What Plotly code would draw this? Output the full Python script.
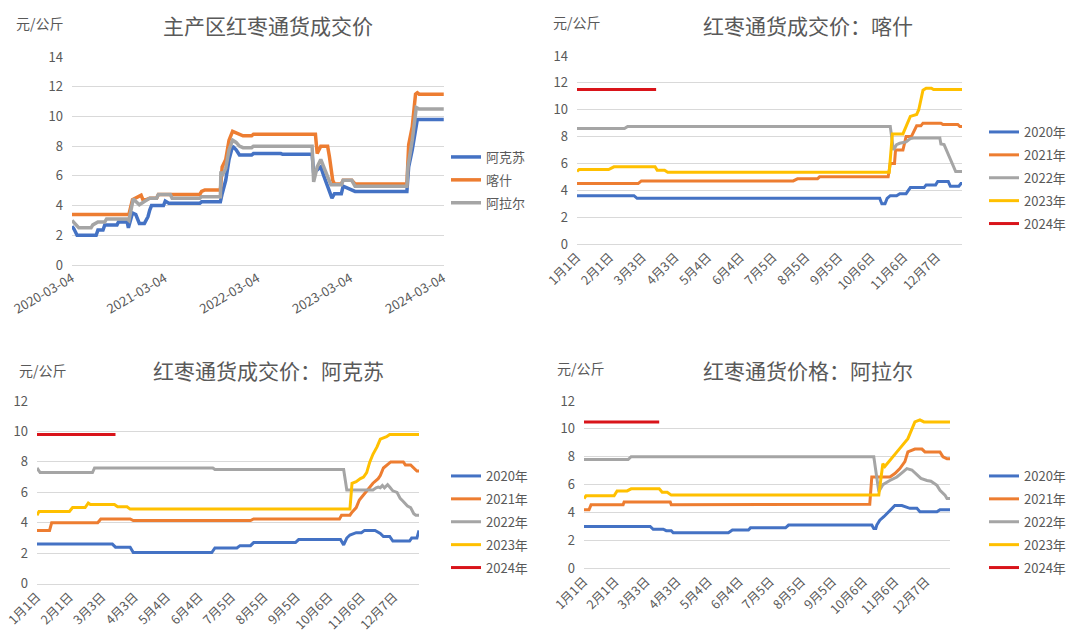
import plotly.graph_objects as go

W, H = 1080, 638
FONT = "Noto Sans CJK SC"
TXT = "#595959"
GRID = "#D9D9D9"
BLUE, ORANGE, GRAY, YELLOW, RED = "#4472C4", "#ED7D31", "#A5A5A5", "#FFC000", "#D9141A"

# ---------------- Panel 1: 主产区红枣通货成交价 (date axis) ----------------
p1_ticks = ["2020-03-04", "2021-03-04", "2022-03-04", "2023-03-04", "2024-03-04"]

akesu_dates = ["2020-03-04", "2020-03-11", "2020-03-24", "2020-06-07", "2020-06-14", "2020-07-04",
               "2020-07-11", "2020-08-28", "2020-09-03", "2020-10-07", "2020-10-12", "2020-10-28",
               "2020-11-10", "2020-11-24", "2020-12-14", "2020-12-28", "2021-01-04", "2021-01-11",
               "2021-02-27", "2021-03-06", "2021-03-20", "2021-07-20", "2021-07-27", "2021-10-09",
               "2021-10-16", "2021-10-30", "2021-11-12", "2021-11-26", "2021-12-10", "2021-12-23",
               "2022-02-09", "2022-02-16", "2022-06-04", "2022-06-11", "2022-10-05", "2022-10-11",
               "2022-10-25", "2022-11-08", "2022-11-21", "2022-12-05", "2022-12-22", "2023-01-01",
               "2023-01-28", "2023-02-04", "2023-02-17", "2023-03-03", "2023-03-23", "2023-10-13",
               "2023-10-20", "2023-11-03", "2023-11-16", "2023-11-23", "2024-03-06"]
akesu_vals = [2.6, 2.45, 2.0, 2.0, 2.35, 2.35,
              2.7, 2.7, 2.9, 2.9, 2.5, 3.5,
              3.4, 2.8, 2.8, 3.25, 3.7, 4.0,
              4.0, 4.3, 4.15, 4.15, 4.25, 4.25,
              4.8, 5.7, 7.1, 8.0, 7.75, 7.4,
              7.4, 7.5, 7.5, 7.45, 7.45, 6.2,
              6.4, 6.6, 5.95, 5.3, 4.5, 4.8,
              4.8, 5.3, 5.2, 5.05, 4.95, 4.95,
              6.6, 7.75, 9.3, 9.8, 9.8]

kashi_dates = ["2020-03-04", "2020-10-14", "2020-10-28", "2020-11-24", "2020-12-01", "2020-12-08",
               "2020-12-21", "2021-01-04", "2021-01-31", "2021-02-07", "2021-07-20", "2021-07-27",
               "2021-08-09", "2021-10-09", "2021-10-16", "2021-10-30", "2021-11-12", "2021-11-26",
               "2021-12-10", "2021-12-23", "2022-01-06", "2022-02-09", "2022-02-16", "2022-10-18",
               "2022-10-25", "2022-11-08", "2022-12-05", "2022-12-12", "2022-12-25", "2023-01-01",
               "2023-01-28", "2023-02-04", "2023-03-10", "2023-03-23", "2023-10-13", "2023-10-20",
               "2023-11-03", "2023-11-16", "2023-11-23", "2023-11-30", "2024-03-06"]
kashi_vals = [3.4, 3.4, 4.4, 4.6, 4.7, 4.4,
              4.4, 4.5, 4.5, 4.75, 4.75, 4.95,
              5.05, 5.05, 6.6, 7.1, 8.4, 9.0,
              8.9, 8.75, 8.7, 8.7, 8.8, 8.8,
              7.5, 8.0, 8.0, 7.3, 5.7, 5.45,
              5.45, 5.7, 5.7, 5.45, 5.45, 8.1,
              9.3, 11.5, 11.6, 11.5, 11.5]

alaer_dates = ["2020-03-04", "2020-03-18", "2020-03-31", "2020-05-18", "2020-05-25", "2020-06-14",
               "2020-07-11", "2020-07-18", "2020-10-07", "2020-10-14", "2020-10-31", "2020-11-24",
               "2020-12-14", "2021-01-04", "2021-01-31", "2021-02-07", "2021-03-26", "2021-04-02",
               "2021-07-20", "2021-07-27", "2021-10-09", "2021-10-11", "2021-10-16", "2021-10-30",
               "2021-11-12", "2021-11-26", "2021-12-10", "2021-12-23", "2022-01-06", "2022-02-09",
               "2022-02-16", "2022-10-05", "2022-10-11", "2022-10-25", "2022-11-08", "2022-11-21",
               "2022-12-05", "2022-12-18", "2023-01-28", "2023-02-04", "2023-03-10", "2023-03-23",
               "2023-10-13", "2023-10-17", "2023-11-03", "2023-11-19", "2023-11-30", "2024-03-06"]
alaer_vals = [3.0, 2.7, 2.5, 2.5, 2.7, 2.9,
              2.9, 3.1, 3.1, 3.0, 4.45, 4.05,
              4.3, 4.5, 4.5, 4.75, 4.75, 4.5,
              4.5, 4.6, 4.6, 6.3, 6.0, 6.5,
              7.75, 8.4, 8.25, 8.0, 7.9, 7.9,
              8.0, 8.0, 5.6, 6.6, 7.1, 6.6,
              5.95, 5.4, 5.4, 5.7, 5.7, 5.3,
              5.3, 6.6, 8.4, 10.6, 10.5, 10.5]

# ---------------- Seasonal panels (day index within a leap year) ----------------
season_tick_days = [0, 31, 62, 93, 124, 155, 186, 217, 248, 279, 310, 341]
season_tick_labels = ["1月1日", "2月1日", "3月3日", "4月3日", "5月4日", "6月4日",
                      "7月5日", "8月5日", "9月5日", "10月6日", "11月6日", "12月7日"]
year_names = ["2020年", "2021年", "2022年", "2023年", "2024年"]

# 喀什
ks_2020_day = [0, 54, 57, 287, 289, 292, 294, 297, 303, 306, 312, 314, 316, 329, 331, 340, 342, 352, 354, 362, 364, 365]
ks_2020_val = [3.6, 3.6, 3.4, 3.4, 3.0, 3.0, 3.4, 3.6, 3.6, 3.75, 3.75, 4.0, 4.2, 4.2, 4.4, 4.4, 4.65, 4.65, 4.3, 4.3, 4.5, 4.5]
ks_2021_day = [0, 58, 61, 205, 209, 228, 230, 295, 297, 301, 302, 309, 312, 317, 322, 326, 328, 345, 347, 361, 363, 365]
ks_2021_val = [4.5, 4.5, 4.7, 4.7, 4.85, 4.85, 5.0, 5.0, 6.0, 6.0, 7.0, 7.0, 8.0, 8.0, 8.8, 8.8, 9.0, 9.0, 8.9, 8.9, 8.75, 8.75]
ks_2022_day = [0, 45, 48, 297, 300, 303, 306, 312, 316, 319, 344, 345, 348, 352, 356, 359, 365]
ks_2022_val = [8.6, 8.6, 8.75, 8.75, 7.0, 7.4, 7.5, 7.6, 7.85, 7.9, 7.9, 7.45, 7.4, 6.7, 5.9, 5.4, 5.4]
ks_2023_day = [0, 2, 30, 35, 74, 76, 83, 86, 296, 299, 309, 312, 316, 322, 324, 328, 331, 336, 338, 365]
ks_2023_val = [5.4, 5.55, 5.55, 5.75, 5.75, 5.5, 5.5, 5.35, 5.35, 8.2, 8.2, 8.75, 9.5, 9.65, 10.0, 11.45, 11.6, 11.6, 11.5, 11.5]
ks_2024_day = [0, 75]
ks_2024_val = [11.5, 11.5]

# 阿克苏
aks_2020_day = [0, 72, 75, 89, 92, 167, 170, 191, 194, 204, 207, 247, 250, 290, 293, 296, 299, 305, 310, 313, 323, 328, 331, 337, 340, 356, 358, 363, 365]
aks_2020_val = [2.6, 2.6, 2.4, 2.4, 2.05, 2.05, 2.35, 2.35, 2.5, 2.5, 2.7, 2.7, 2.9, 2.9, 2.55, 3.0, 3.2, 3.35, 3.35, 3.5, 3.5, 3.3, 3.1, 3.1, 2.8, 2.8, 3.0, 3.0, 3.5]
aks_2021_day = [0, 12, 14, 58, 61, 89, 92, 204, 207, 289, 291, 299, 301, 305, 308, 313, 318, 321, 326, 328, 331, 336, 338, 350, 352, 357, 361, 363, 365]
aks_2021_val = [3.5, 3.5, 4.0, 4.0, 4.25, 4.25, 4.15, 4.15, 4.25, 4.25, 4.5, 4.5, 4.7, 5.0, 5.5, 5.9, 6.3, 6.6, 6.9, 7.1, 7.6, 7.9, 8.0, 8.0, 7.8, 7.8, 7.5, 7.4, 7.4]
aks_2022_day = [0, 1, 3, 53, 55, 168, 170, 293, 296, 321, 324, 326, 328, 330, 332, 335, 337, 340, 344, 347, 350, 354, 357, 360, 362, 365]
aks_2022_val = [7.4, 7.5, 7.3, 7.3, 7.6, 7.6, 7.5, 7.5, 6.15, 6.15, 6.3, 6.35, 6.3, 6.45, 6.3, 6.5, 6.35, 6.1, 6.0, 5.6, 5.4, 5.1, 5.0, 4.6, 4.5, 4.5]
aks_2023_day = [0, 2, 31, 34, 46, 49, 51, 74, 77, 86, 89, 299, 301, 305, 309, 312, 315, 318, 321, 325, 328, 331, 334, 337, 365]
aks_2023_val = [4.5, 4.75, 4.75, 5.0, 5.0, 5.3, 5.2, 5.2, 5.05, 5.05, 4.9, 4.9, 6.6, 6.7, 6.9, 7.0, 7.3, 8.0, 8.5, 9.0, 9.5, 9.55, 9.65, 9.8, 9.8]
aks_2024_day = [0, 75]
aks_2024_val = [9.8, 9.8]

# 阿拉尔
alr_2020_day = [0, 66, 69, 79, 82, 87, 89, 144, 148, 164, 166, 201, 204, 287, 289, 291, 292, 295, 299, 305, 310, 317, 322, 325, 332, 335, 352, 355, 365]
alr_2020_val = [3.0, 3.0, 2.8, 2.8, 2.7, 2.7, 2.55, 2.55, 2.75, 2.75, 2.9, 2.9, 3.1, 3.1, 2.85, 2.85, 3.1, 3.45, 3.7, 4.15, 4.5, 4.5, 4.4, 4.3, 4.3, 4.05, 4.05, 4.2, 4.2]
alr_2021_day = [0, 5, 7, 39, 40, 86, 87, 203, 206, 285, 287, 305, 310, 315, 320, 323, 330, 337, 340, 355, 358, 362, 365]
alr_2021_val = [4.2, 4.2, 4.55, 4.55, 4.75, 4.75, 4.55, 4.55, 4.6, 4.6, 6.55, 6.55, 6.8, 7.15, 7.65, 8.35, 8.55, 8.55, 8.35, 8.35, 8.0, 7.85, 7.85]
alr_2022_day = [0, 44, 47, 289, 294, 298, 305, 312, 317, 322, 327, 332, 336, 342, 346, 352, 355, 360, 362, 365]
alr_2022_val = [7.8, 7.8, 8.0, 8.0, 5.5, 6.0, 6.3, 6.55, 6.85, 7.15, 7.05, 6.7, 6.45, 6.3, 6.25, 5.95, 5.6, 5.25, 5.0, 5.0]
alr_2023_day = [0, 2, 30, 33, 43, 47, 75, 78, 83, 87, 294, 298, 300, 303, 309, 315, 323, 327, 330, 335, 339, 365]
alr_2023_val = [5.0, 5.2, 5.2, 5.55, 5.55, 5.7, 5.7, 5.45, 5.45, 5.25, 5.25, 7.5, 7.3, 7.55, 8.1, 8.6, 9.3, 10.0, 10.5, 10.65, 10.5, 10.5]
alr_2024_day = [0, 75]
alr_2024_val = [10.5, 10.5]


def fx(p):
    return p / W


def fy(p):
    return 1 - p / H


fig = go.Figure()

# panel 1 traces
for name, xs, ys, col in [("阿克苏", akesu_dates, akesu_vals, BLUE),
                          ("喀什", kashi_dates, kashi_vals, ORANGE),
                          ("阿拉尔", alaer_dates, alaer_vals, GRAY)]:
    fig.add_trace(go.Scatter(x=xs, y=ys, name=name, mode="lines", legendgroup="p1" + name,
                             line=dict(color=col, width=3.5), xaxis="x", yaxis="y", legend="legend"))

season_sets = [
    ("2", "legend2", [(ks_2020_day, ks_2020_val), (ks_2021_day, ks_2021_val), (ks_2022_day, ks_2022_val),
                      (ks_2023_day, ks_2023_val), (ks_2024_day, ks_2024_val)]),
    ("3", "legend3", [(aks_2020_day, aks_2020_val), (aks_2021_day, aks_2021_val), (aks_2022_day, aks_2022_val),
                      (aks_2023_day, aks_2023_val), (aks_2024_day, aks_2024_val)]),
    ("4", "legend4", [(alr_2020_day, alr_2020_val), (alr_2021_day, alr_2021_val), (alr_2022_day, alr_2022_val),
                      (alr_2023_day, alr_2023_val), (alr_2024_day, alr_2024_val)]),
]
colors = [BLUE, ORANGE, GRAY, YELLOW, RED]
for ax, leg, series in season_sets:
    for (d, v), nm, col in zip(series, year_names, colors):
        fig.add_trace(go.Scatter(x=d, y=v, name=nm, mode="lines", legendgroup=ax + nm,
                                 line=dict(color=col, width=3), xaxis="x" + ax, yaxis="y" + ax, legend=leg))

tickfont = dict(family=FONT, size=13, color=TXT)
xfont = dict(family=FONT, size=13, color=TXT)

def yaxis(dom, top, anchor):
    return dict(domain=dom, range=[0, top], dtick=2, showgrid=True, gridcolor=GRID, gridwidth=1,
                zeroline=False, showline=False, ticks="", tickfont=tickfont, anchor=anchor,
                ticklabelstandoff=8, fixedrange=True, automargin=False)

def sxaxis(dom, anchor):
    return dict(domain=dom, range=[0, 365], tickvals=season_tick_days, ticktext=season_tick_labels,
                tickangle=-45, showgrid=False, zeroline=False, showline=True, linecolor=GRID, linewidth=1,
                ticks="", tickfont=dict(family=FONT, size=12.5, color=TXT), anchor=anchor, fixedrange=True,
                automargin=False)

legend_base = dict(font=dict(family=FONT, size=13, color=TXT), bgcolor="rgba(0,0,0,0)",
                   xanchor="left", yanchor="middle", tracegroupgap=3, itemclick=False, itemdoubleclick=False)

layout = dict(
    template="none",
    width=W, height=H, autosize=False, margin=dict(l=0, r=0, t=0, b=0, pad=0, autoexpand=False),
    paper_bgcolor="white", plot_bgcolor="white", font=dict(family=FONT, color=TXT),
    xaxis=dict(domain=[fx(72), fx(444)], type="date", range=["2020-03-04", "2024-03-07"],
               tickvals=p1_ticks, ticktext=p1_ticks, tickangle=-30, showgrid=False, zeroline=False,
               showline=True, linecolor=GRID, ticks="", tickfont=xfont, anchor="y", fixedrange=True,
               automargin=False),
    yaxis=yaxis([fy(265), fy(57)], 14, "x"),
    xaxis2=sxaxis([fx(577), fx(962)], "y2"),
    yaxis2=yaxis([fy(244), fy(56)], 14, "x2"),
    xaxis3=sxaxis([fx(37), fx(419)], "y3"),
    yaxis3=yaxis([fy(583.7), fy(401)], 12, "x3"),
    xaxis4=sxaxis([fx(584), fx(950)], "y4"),
    yaxis4=yaxis([fy(568.3), fy(401)], 12, "x4"),
    legend=dict(legend_base, x=fx(446), y=fy(180)),
    legend2=dict(legend_base, x=fx(984), y=fy(178)),
    legend3=dict(legend_base, x=fx(446), y=fy(522)),
    legend4=dict(legend_base, x=fx(984), y=fy(522)),
    showlegend=True,
    hovermode=False,
)
fig.update_layout(**layout)

titles = [("主产区红枣通货成交价", 268, 25), ("红枣通货成交价：喀什", 808, 25),
          ("红枣通货成交价：阿克苏", 268, 370), ("红枣通货价格：阿拉尔", 808, 370)]
for t, x, y in titles:
    fig.add_annotation(text=t, x=fx(x), y=fy(y), xref="paper", yref="paper", showarrow=False,
                       xanchor="center", yanchor="middle", font=dict(family=FONT, size=21, color=TXT))

units = [(40, 23), (577, 22), (43, 370), (581, 368)]
for x, y in units:
    fig.add_annotation(text="元/公斤", x=fx(x), y=fy(y), xref="paper", yref="paper", showarrow=False,
                       xanchor="center", yanchor="middle", font=dict(family=FONT, size=14, color=TXT))

fig.write_html("out.html",
               config={"displayModeBar": False, "staticPlot": True},
               post_script="document.body.style.margin='0';document.body.style.padding='0';"
                           "document.body.style.overflow='hidden';")
